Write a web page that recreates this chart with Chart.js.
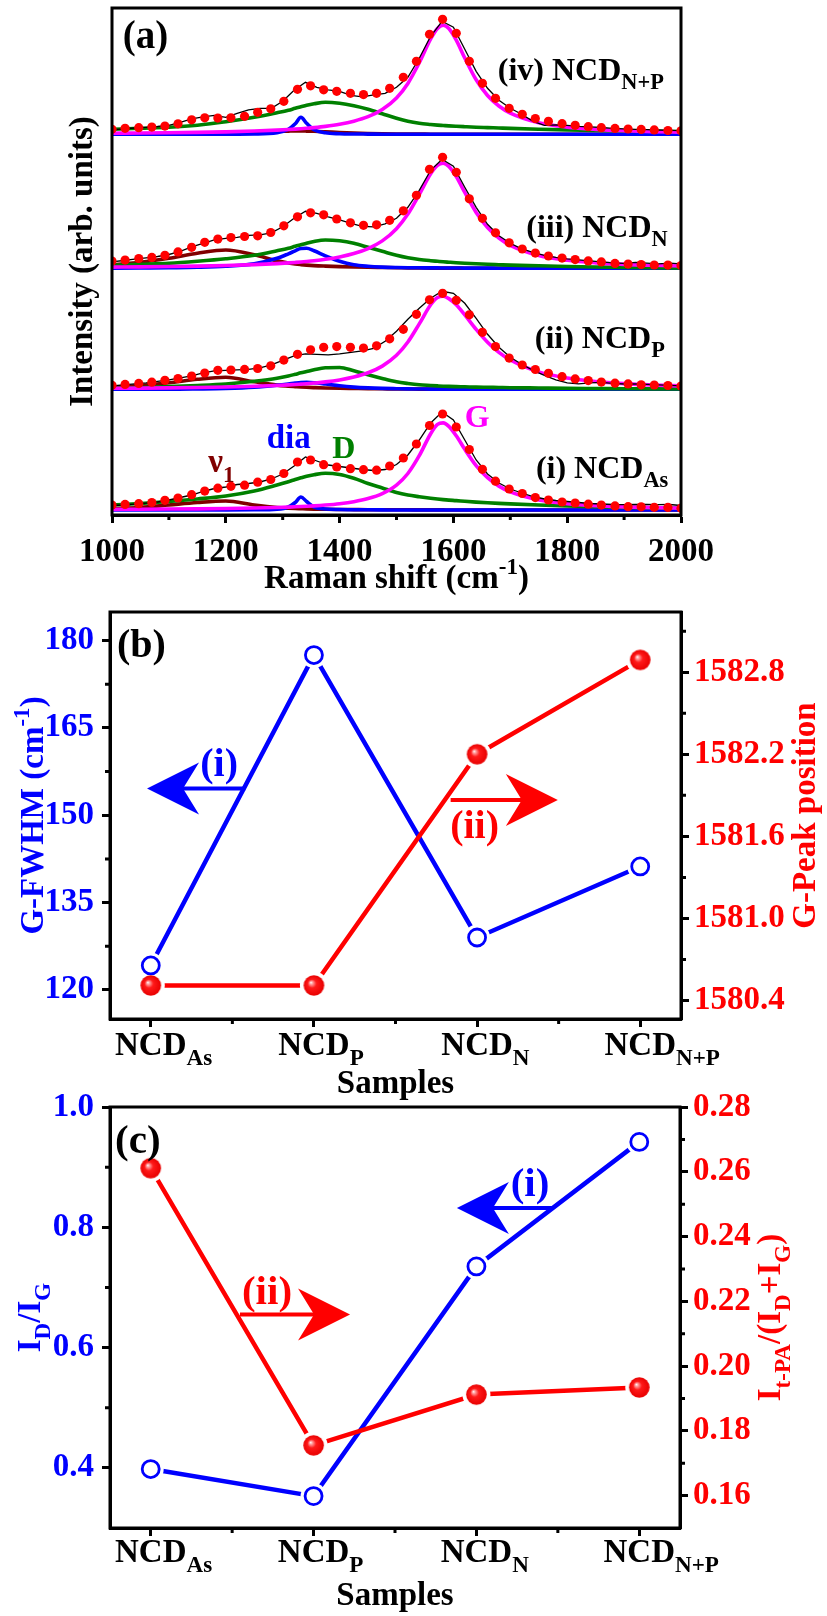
<!DOCTYPE html>
<html>
<head>
<meta charset="utf-8">
<script src="https://cdn.jsdelivr.net/npm/chart.js@4.4.1/dist/chart.umd.min.js"></script>
<style>
html,body{margin:0;padding:0;background:#ffffff;}
body{width:827px;height:1616px;position:relative;overflow:hidden;}
canvas{position:absolute;left:0;display:block;}
</style>
</head>
<body>
<canvas id="ca" width="827" height="598" style="top:0px;width:827px;height:598px"></canvas>
<canvas id="cb" width="827" height="502" style="top:598px;width:827px;height:502px"></canvas>
<canvas id="cc" width="827" height="536" style="top:1080px;width:827px;height:536px"></canvas>
<script>
const FONT='"Liberation Serif","Times New Roman",Times,serif';
const BLUE='#0000FF',RED='#FF0000',MAG='#FF00FF',GREEN='#008000',WINE='#800000',BLK='#000000';
Chart.defaults.font.family=FONT;

// ================= Panel (a): Raman spectra =================
const ramanTicks=[1000,1200,1400,1600,1800,2000];
const ramanMinor=[1100,1300,1500,1700,1900];
const fitX=[1000,1023,1047,1070,1093,1116,1140,1163,1186,1209,1233,1256,1279,1302,1326,1349,1372,1395,1419,1442,1465,1488,1512,1535,1558,1581,1605,1628,1651,1674,1698,1721,1744,1767,1791,1814,1837,1860,1884,1907,1930,1953,1977,2000];
const expX=[1000,1020,1040,1060,1080,1100,1120,1140,1160,1180,1200,1220,1240,1260,1280,1300,1320,1340,1360,1380,1400,1420,1440,1460,1480,1500,1520,1540,1560,1580,1600,1620,1640,1660,1680,1700,1720,1740,1760,1780,1800,1820,1840,1860,1880,1900,1920,1940,1960,1980,2000];
const compX=[1000,1050,1100,1150,1200,1250,1290,1310,1322,1332,1342,1355,1375,1400,1425,1450,1475,1500,1520,1540,1560,1572,1582,1592,1605,1620,1640,1660,1680,1700,1750,1800,1850,1900,1950,2000];
// baselines of the stacked spectra (i) NCD_As, (ii) NCD_P, (iii) NCD_N, (iv) NCD_N+P
const stackOffset=[5,125.7,246.7,380.7];

// (i) NCD_As
const fit_i=[5,5.6,6.3,7.5,9.7,12,15.3,18.9,21.8,23.7,24.8,27.8,30.5,36.5,48,50,45.3,43,41.3,40.3,39.8,44,52,66,84.5,96,83,60.5,40.7,28.8,21,16.5,12.4,10,8,7,5.8,4.9,4.1,3.3,3.2,2.7,2.6,1.8];
const exp_i=[4.5,5,5.8,6.8,8,10,12.5,15,18.5,21.5,23,25.5,26.5,28,31,36,44,53,49,45,43.5,42,40.5,39.5,40.5,45.5,55,70,87,98,90,70,50,36,27,21,17,13.5,11,9.5,8.5,7.5,6.5,6,5.5,5.3,5.5,5.5,5.3,5.5,4.5];
const G_i=[0.65,0.77,0.94,1.17,1.49,1.97,2.54,2.92,3.19,3.44,3.72,4.14,4.96,6.32,8.32,11.4,16.4,24.9,36.5,54.3,76.3,85.6,87.1,83.6,74.2,60.7,44.4,32.3,23.9,18.1,10.1,6.37,4.34,3.14,2.37,1.85];
const D_i=[5,6.5,8.5,11,14,19,25,28.3,30.5,32.2,33.8,35.3,36.7,35.5,31.7,26.5,22,17.5,15,13.3,11.8,11,10.4,9.9,9.4,8.7,7.9,7.2,6.6,6.1,5,4,3.2,2.6,2.1,1.7];
const dia_i=[0,0,0,0,0,0.2,0.8,3,7.5,13,8.5,3,1,0.5,0.3,0.2,0.1,0,0,0,0,0,0,0,0,0,0,0,0,0,0,0,0,0,0,0];
const v1_i=[1.5,2.5,5,7.5,9,5,2.5,1.8,1.5,1.3,1.1,0.9,0.7,0.5,0.4,0.3,0.3,0.2,0.2,0.1,0.1,0.1,0.1,0,0,0,0,0,0,0,0,0,0,0,0,0];

// (ii) NCD_P
const fit_ii=[4,4.9,5.9,7.1,9,10.7,13.3,16.3,19,19.3,19.9,20.8,23.5,29.2,35,39.5,42,42.7,42,41.2,43.5,50.5,60,75,89.5,96,89,74.5,57,42.7,31.2,24.3,19.8,16,12.6,10.4,8.7,7.2,6.1,5.4,4.5,4.3,3.8,3.3];
const exp_ii=[3.5,4.5,5.5,6.5,8,9.5,11.5,13.5,16.5,18.5,19,19.5,20,21.5,24.5,29,33.5,35.5,35,34.5,35.5,37,38.5,41,48,58,70,81,91,98,96,86,71,55,42,32,25,19,14,9.5,6.5,5.5,6.5,7,6,5.3,5.3,5,4.5,4,3.5];
const G_ii=[0.99,1.18,1.44,1.79,2.27,2.99,3.84,4.41,4.81,5.2,5.6,6.24,7.4,9.4,12.25,16.5,23.2,34,47.3,65.4,84.5,91.7,93,90.7,84.5,74.4,59.9,47.1,36.9,29.3,17.4,11.3,7.8,5.7,4.33,3.4];
const D_ii=[1,1.8,2.7,3.8,5.3,8,11,13.3,15,16.5,17.8,19.5,21.5,21.8,18.5,14.5,10.8,7.5,5.8,4.5,3.8,3.4,3.1,2.9,2.7,2.5,2.2,2,1.8,1.6,1.3,1,0.8,0.6,0.4,0.3];
const dia_ii=[0,0,0,0.3,0.8,2,4,5.3,6.2,6.8,7,6.6,5.3,3.5,2.2,1.4,0.9,0.6,0.4,0.3,0.2,0.2,0.2,0.1,0.1,0.1,0,0,0,0,0,0,0,0,0,0];
const v1_ii=[2,3.8,6.5,10,12,7.5,4.2,3.2,2.7,2.3,2,1.7,1.3,1,0.8,0.6,0.5,0.4,0.3,0.2,0.2,0.2,0.2,0.1,0.1,0.1,0.1,0,0,0,0,0,0,0,0,0];

// (iii) NCD_N
const fit_iii=[7.2,8.2,9.8,10.9,13,16.4,21,26,29.2,30.7,31.8,32.5,35.8,42.5,51.5,55.5,53.5,49.3,45.5,43,43.5,48,57.5,73,99,111,96,69.5,50,35.5,25.5,19.3,15.2,12.3,10.2,8.7,7.4,6.4,4.9,4.2,3.8,3.3,3.2,2.7];
const exp_iii=[6.5,7.8,9.2,10.5,11.8,13.8,17,21.5,25,28.5,30,31,33,33.5,35.5,41.5,50,57,55,51.5,48.5,45,42,41.5,44.5,50,61,78,98,109,102,81,61,44,32.5,25,19.5,16,13,11,9.5,8.5,7.5,6.5,5.5,5,6,5.2,4.5,5.2,4.5];
const G_iii=[1.22,1.46,1.77,2.2,2.79,3.67,4.71,5.38,5.87,6.31,6.82,7.57,8.98,11.35,14.7,19.7,27.4,39.6,54.2,73.8,94.5,102.9,105,101.9,91.7,75.9,55.9,40.8,30.3,23,12.8,8.03,5.47,3.95,2.98,2.32];
const D_iii=[3,4,5,7,9.5,13,17.5,20,22,23.5,25,26.8,28.3,27.5,25,21,17,13,10.5,8.8,7.6,7,6.5,6.1,5.6,5.1,4.5,4,3.6,3.2,2.5,1.8,1.3,0.9,0.6,0.4];
const dia_iii=[0,0.3,0.6,1,2,4.5,10,14.5,17.5,19.8,20,17.5,12.5,7,3.5,2,1.2,0.8,0.6,0.5,0.4,0.4,0.3,0.3,0.3,0.2,0.2,0.2,0.1,0.1,0,0,0,0,0,0];
const v1_iii=[3.5,6,10,15,18.3,13.5,7.5,5.3,4.3,3.7,3.2,2.7,2.2,1.7,1.3,1,0.8,0.6,0.4,0.3,0.2,0.2,0.2,0.2,0.2,0.1,0.1,0.1,0.1,0,0,0,0,0,0,0];

// (iv) NCD_N+P
const fit_iv=[5,6,6.6,7.2,8.2,10.5,14.5,16.5,16.2,16.5,18,22,25.5,33,45,48.5,44.5,43,41,39.7,41,46,57,73,100,115,101,73,51,36,26,20,15.8,13,10.6,9,7.6,6.6,5.9,5.3,4.9,4.4,3.8,3.5];
const exp_iv=[4.5,5.5,6.3,7,7.8,9,12,15.5,17.5,19,17,21,24.5,26,26,33,44,52,47,44.5,43,39,37.5,39.5,41,47,57,76,98,113,107,85,63,46,34,26,20,13,9,9.5,9,8,7.5,6.8,6,5.5,5,4.6,4.3,4,3.6];
const G_iv=[1.07,1.28,1.56,1.93,2.46,3.23,4.14,4.74,5.17,5.56,6.02,6.69,7.94,10.05,13.1,17.6,24.8,36.3,50.9,71.5,95.3,105.8,109,105.8,94.2,76.3,54.5,38.8,28.3,21.2,11.6,7.2,4.9,3.5,2.64,2.06];
const D_iv=[5,6,7,9,12.5,17,21.5,24,26,27.5,29,30.5,32,31,28.5,25,20.5,16,13,11,9.8,9.2,8.8,8.4,8,7.6,7.1,6.7,6.3,5.9,5.1,4.4,3.8,3.3,3,2.7];
const dia_iv=[0,0,0,0,0.1,0.3,1.5,5,10.5,17,11,4.5,1.5,0.6,0.3,0.2,0.1,0,0,0,0,0,0,0,0,0,0,0,0,0,0,0,0,0,0,0];
const v1_iv=[0.3,0.5,0.8,1.2,1.8,2.5,3,3.2,3.3,3.3,3.2,3,2.5,1.8,1.2,0.8,0.5,0.3,0.2,0.2,0.1,0.1,0.1,0.1,0,0,0,0,0,0,0,0,0,0,0,0];

// ================= Panels (b) and (c) =================
const catIdx=[0,1,2,3];
const catMain=['NCD','NCD','NCD','NCD'];
const catSub=['As','P','N','N+P'];
const catMinor=[0.5,1.5,2.5];
const gFwhm=[124.2,177.5,129.0,141.2];
const gPos=[1580.51,1580.51,1582.20,1582.89];
const fwhmTicks=[120,135,150,165,180];
const fwhmMinor=[127.5,142.5,157.5,172.5];
const gPosTicks=[1580.4,1581.0,1581.6,1582.2,1582.8];
const gPosMinor=[1580.7,1581.3,1581.9,1582.5,1583.1];
const idIg=[0.398,0.353,0.735,0.942];
const itpa=[0.2611,0.1755,0.1912,0.1934];
const idigTicks=[0.4,0.6,0.8,1.0];
const idigMinor=[0.5,0.7,0.9];
const itpaTicks=[0.16,0.18,0.20,0.22,0.24,0.26,0.28];
const itpaMinor=[0.17,0.19,0.21,0.23,0.25,0.27];

// ---------- helpers ----------
function pts(xs,ys,off){return xs.map((x,k)=>({x:x,y:off+ys[k]}));}
function segW(ctx,segs,size,wt){let w=0;for(const s of segs){ctx.font=wt+' '+(s.s?size*0.7:size)+'px '+FONT;w+=ctx.measureText(s.t).width;}return w;}
function drawRich(ctx,segs,x,y,o){
  o=o||{};const size=o.size||33,wt=o.weight||'bold';
  ctx.save();ctx.translate(x,y);if(o.rot)ctx.rotate(o.rot);
  ctx.fillStyle=o.color||BLK;ctx.textAlign='left';ctx.textBaseline='alphabetic';
  const w=segW(ctx,segs,size,wt);let cx=0;
  if(o.align==='center')cx=-w/2;else if(o.align==='right')cx=-w;else if(o.align==='first')cx=-segW(ctx,[segs[0]],size,wt)/2;
  for(const s of segs){const fs=s.s?size*0.7:size;ctx.font=wt+' '+fs+'px '+FONT;
    const dy=s.s==='sub'?size*0.29:(s.s==='sup'?-size*0.42:0);
    ctx.fillText(s.t,cx,dy);cx+=ctx.measureText(s.t).width;}
  ctx.restore();
}
function frame(chart){const a=chart.chartArea,c=chart.ctx;c.save();c.strokeStyle=BLK;c.lineWidth=3;c.strokeRect(a.left,a.top,a.right-a.left,a.bottom-a.top);c.restore();}
function minorTicks(chart,id,vals,side,len){
  const s=chart.scales[id],a=chart.chartArea,c=chart.ctx;c.save();c.strokeStyle=BLK;c.lineWidth=3;c.beginPath();
  vals.forEach(v=>{const p=s.getPixelForValue(v);
    if(side==='bottom'){c.moveTo(p,a.bottom);c.lineTo(p,a.bottom+len);}
    else if(side==='left'){c.moveTo(a.left-len,p);c.lineTo(a.left,p);}
    else {c.moveTo(a.right,p);c.lineTo(a.right+len,p);}
  });c.stroke();c.restore();
}
function arrow(ctx,x0,x1,y,color){
  const d=Math.sign(x1-x0);ctx.save();ctx.strokeStyle=color;ctx.fillStyle=color;ctx.lineWidth=4;
  ctx.beginPath();ctx.moveTo(x0,y);ctx.lineTo(x1-d*30,y);ctx.stroke();
  ctx.beginPath();ctx.moveTo(x1,y);ctx.lineTo(x1-d*52,y-26);ctx.lineTo(x1-d*36,y);ctx.lineTo(x1-d*52,y+26);ctx.closePath();ctx.fill();
  ctx.restore();
}
function makeSphere(r){
  const c=document.createElement('canvas');const s=Math.ceil(2*r+2);c.width=s;c.height=s;
  const g=c.getContext('2d');const cx=s/2,cy=s/2;
  const grd=g.createRadialGradient(cx-0.3*r,cy-0.3*r,0,cx,cy,r);
  grd.addColorStop(0,'#ffffff');grd.addColorStop(0.16,'#ff9a9a');grd.addColorStop(0.42,'#ff1a1a');grd.addColorStop(1,'#e80000');
  g.fillStyle=grd;g.beginPath();g.arc(cx,cy,r,0,2*Math.PI);g.fill();return c;
}
const sphere=makeSphere(10.3);
const tickFont={family:FONT,size:33,weight:'bold'};
function gridOpts(){return {display:true,drawOnChartArea:false,drawTicks:true,tickLength:8,tickWidth:3,tickColor:BLK};}
const borderOpts={display:true,color:BLK,width:3};

// ================= Chart (a) =================
const spectra=[
  {off:stackOffset[0],fit:fit_i,exp:exp_i,G:G_i,D:D_i,dia:dia_i,v1:v1_i},
  {off:stackOffset[1],fit:fit_ii,exp:exp_ii,G:G_ii,D:D_ii,dia:dia_ii,v1:v1_ii},
  {off:stackOffset[2],fit:fit_iii,exp:exp_iii,G:G_iii,D:D_iii,dia:dia_iii,v1:v1_iii},
  {off:stackOffset[3],fit:fit_iv,exp:exp_iv,G:G_iv,D:D_iv,dia:dia_iv,v1:v1_iv}
];
const dsA=[];
spectra.forEach(s=>{
  const comp=(arr,col,ord)=>({data:pts(compX,arr,s.off),borderColor:col,borderWidth:3.6,pointRadius:0,cubicInterpolationMode:'monotone',order:ord});
  dsA.push(comp(s.v1,WINE,6));
  dsA.push(comp(s.dia,BLUE,5));
  dsA.push(comp(s.D,GREEN,4));
  dsA.push(comp(s.G,MAG,3));
  dsA.push({data:pts(expX,s.exp,s.off),borderColor:BLK,borderWidth:1.3,pointRadius:0,tension:0,order:2});
  dsA.push({data:pts(fitX,s.fit,s.off),showLine:false,pointRadius:4.6,pointBackgroundColor:RED,pointBorderWidth:0,order:1});
});
// text annotations of panel (a) in data coordinates (wavenumber, intensity)
const aTexts=[
  {segs:[{t:'(a)'}],x:1019,y:467,size:39,color:BLK},
  {segs:[{t:'(iv) NCD'},{t:'N+P',s:'sub'}],x:1678,y:435,size:32,color:BLK},
  {segs:[{t:'(iii) NCD'},{t:'N',s:'sub'}],x:1728,y:278,size:32,color:BLK},
  {segs:[{t:'(ii) NCD'},{t:'P',s:'sub'}],x:1743,y:167,size:32,color:BLK},
  {segs:[{t:'(i) NCD'},{t:'As',s:'sub'}],x:1745,y:37,size:32,color:BLK},
  {segs:[{t:'G'}],x:1620,y:88,size:32,color:MAG},
  {segs:[{t:'D'}],x:1387,y:57,size:32,color:GREEN},
  {segs:[{t:'dia'}],x:1272,y:67,size:33,color:BLUE},
  {segs:[{t:'\u03BD'},{t:'1',s:'sub'}],x:1169,y:43,size:33,color:WINE}
];
const decoA={id:'decoA',afterDraw(chart){
  const c=chart.ctx,a=chart.chartArea,xs=chart.scales.x,ys=chart.scales.y;
  frame(chart);
  minorTicks(chart,'x',ramanMinor,'bottom',5);
  aTexts.forEach(t=>drawRich(c,t.segs,xs.getPixelForValue(t.x),ys.getPixelForValue(t.y),{size:t.size,color:t.color}));
  drawRich(c,[{t:'Raman shift (cm'},{t:'-1',s:'sup'},{t:')'}],(a.left+a.right)/2,a.bottom+73,{align:'center',size:33});
  drawRich(c,[{t:'Intensity (arb. units)'}],a.left-20,(a.top+a.bottom)/2,{align:'center',size:33,rot:-Math.PI/2});
}};
new Chart(document.getElementById('ca'),{
  type:'line',data:{datasets:dsA},
  options:{responsive:false,animation:false,devicePixelRatio:1,
    layout:{padding:{top:8,left:112,right:146,bottom:0}},
    plugins:{legend:{display:false},tooltip:{enabled:false}},
    scales:{
      x:{type:'linear',min:1000,max:2000,
        afterBuildTicks:s=>{s.ticks=ramanTicks.map(v=>({value:v}));},
        afterFit:s=>{s.height=83;s.paddingLeft=0;s.paddingRight=0;},
        ticks:{color:BLK,font:tickFont,padding:10,autoSkip:false,maxRotation:0,callback:v=>String(v)},
        grid:gridOpts(),border:borderOpts},
      y:{type:'linear',min:0,max:507,display:false}
    }},
  plugins:[decoA]
});

// ================= Chart (b) =================
const decoB={id:'decoB',afterDraw(chart){
  const c=chart.ctx,a=chart.chartArea,xs=chart.scales.x,ys=chart.scales.y;
  frame(chart);
  minorTicks(chart,'x',catMinor,'bottom',5);
  minorTicks(chart,'y',fwhmMinor,'left',5);
  minorTicks(chart,'y2',gPosMinor,'right',5);
  catIdx.forEach(k=>drawRich(c,[{t:catMain[k]},{t:catSub[k],s:'sub'}],xs.getPixelForValue(k),a.bottom+36,{align:'first',size:33}));
  drawRich(c,[{t:'Samples'}],(a.left+a.right)/2,a.bottom+74,{align:'center',size:33});
  drawRich(c,[{t:'G-FWHM (cm'},{t:'-1',s:'sup'},{t:')'}],a.left-67,(a.top+a.bottom)/2,{align:'center',size:33,rot:-Math.PI/2,color:BLUE});
  drawRich(c,[{t:'G-Peak position'}],a.right+134,(a.top+a.bottom)/2,{align:'center',size:33,rot:-Math.PI/2,color:RED});
  drawRich(c,[{t:'(b)'}],xs.getPixelForValue(-0.207),ys.getPixelForValue(177.2),{size:40});
  arrow(c,xs.getPixelForValue(0.579),xs.getPixelForValue(-0.023),ys.getPixelForValue(154.6),BLUE);
  drawRich(c,[{t:'(i)'}],xs.getPixelForValue(0.419),ys.getPixelForValue(156.8),{align:'center',size:40,color:BLUE});
  arrow(c,xs.getPixelForValue(1.838),xs.getPixelForValue(2.495),ys.getPixelForValue(152.6),RED);
  drawRich(c,[{t:'(ii)'}],xs.getPixelForValue(1.985),ys.getPixelForValue(146.0),{align:'center',size:40,color:RED});
}};
new Chart(document.getElementById('cb'),{
  type:'line',
  data:{datasets:[
    {data:pts(catIdx,gFwhm,0),yAxisID:'y',borderColor:BLUE,borderWidth:4.5,pointRadius:13,pointBackgroundColor:'#fff',pointBorderWidth:0,order:4},
    {data:pts(catIdx,gPos,0),yAxisID:'y2',borderColor:RED,borderWidth:4.5,pointRadius:14,pointBackgroundColor:'#fff',pointBorderWidth:0,order:3},
    {data:pts(catIdx,gFwhm,0),yAxisID:'y',showLine:false,pointRadius:8.5,pointBorderColor:BLUE,pointBackgroundColor:'#fff',pointBorderWidth:2.8,order:2},
    {data:pts(catIdx,gPos,0),yAxisID:'y2',showLine:false,pointStyle:sphere,pointRadius:10,order:1}
  ]},
  options:{responsive:false,animation:false,devicePixelRatio:1,
    layout:{padding:{top:3,left:0,right:0,bottom:0}},
    plugins:{legend:{display:false},tooltip:{enabled:false}},
    scales:{
      x:{type:'linear',min:-0.25,max:3.25,
        afterBuildTicks:s=>{s.ticks=catIdx.map(v=>({value:v}));},
        afterFit:s=>{s.height=81;s.paddingLeft=0;s.paddingRight=0;},
        ticks:{display:false},grid:gridOpts(),border:borderOpts},
      y:{type:'linear',position:'left',min:115,max:184.9,
        afterBuildTicks:s=>{s.ticks=fwhmTicks.map(v=>({value:v}));},
        afterFit:s=>{s.width=110;s.paddingTop=0;s.paddingBottom=0;},
        ticks:{color:BLUE,font:tickFont,padding:8,callback:v=>String(v)},
        grid:gridOpts(),border:borderOpts},
      y2:{type:'linear',position:'right',min:1580.265,max:1583.24,
        afterBuildTicks:s=>{s.ticks=gPosTicks.map(v=>({value:v}));},
        afterFit:s=>{s.width=146;s.paddingTop=0;s.paddingBottom=0;},
        ticks:{color:RED,font:tickFont,padding:5,callback:v=>Number(v).toFixed(1)},
        grid:gridOpts(),border:borderOpts}
    }},
  plugins:[decoB]
});

// ================= Chart (c) =================
const decoC={id:'decoC',afterDraw(chart){
  const c=chart.ctx,a=chart.chartArea,xs=chart.scales.x,ys=chart.scales.y;
  frame(chart);
  minorTicks(chart,'x',catMinor,'bottom',5);
  minorTicks(chart,'y',idigMinor,'left',5);
  minorTicks(chart,'y2',itpaMinor,'right',5);
  catIdx.forEach(k=>drawRich(c,[{t:catMain[k]},{t:catSub[k],s:'sub'}],xs.getPixelForValue(k),a.bottom+34,{align:'first',size:33}));
  drawRich(c,[{t:'Samples'}],(a.left+a.right)/2,a.bottom+77,{align:'center',size:33});
  drawRich(c,[{t:'I'},{t:'D',s:'sub'},{t:'/I'},{t:'G',s:'sub'}],a.left-70,(a.top+a.bottom)/2,{align:'center',size:33,rot:-Math.PI/2,color:BLUE});
  drawRich(c,[{t:'I'},{t:'t-PA',s:'sub'},{t:'/(I'},{t:'D',s:'sub'},{t:'+I'},{t:'G',s:'sub'},{t:')'}],a.right+100,(a.top+a.bottom)/2,{align:'center',size:33,rot:-Math.PI/2,color:RED});
  drawRich(c,[{t:'(c)'}],xs.getPixelForValue(-0.219),ys.getPixelForValue(0.923),{size:41});
  arrow(c,xs.getPixelForValue(0.548),xs.getPixelForValue(1.224),ys.getPixelForValue(0.655),RED);
  drawRich(c,[{t:'(ii)'}],xs.getPixelForValue(0.714),ys.getPixelForValue(0.673),{align:'center',size:41,color:RED});
  arrow(c,xs.getPixelForValue(2.47),xs.getPixelForValue(1.88),ys.getPixelForValue(0.832),BLUE);
  drawRich(c,[{t:'(i)'}],xs.getPixelForValue(2.329),ys.getPixelForValue(0.852),{align:'center',size:41,color:BLUE});
}};
new Chart(document.getElementById('cc'),{
  type:'line',
  data:{datasets:[
    {data:pts(catIdx,idIg,0),yAxisID:'y',borderColor:BLUE,borderWidth:4.5,pointRadius:13,pointBackgroundColor:'#fff',pointBorderWidth:0,order:4},
    {data:pts(catIdx,itpa,0),yAxisID:'y2',borderColor:RED,borderWidth:4.5,pointRadius:14,pointBackgroundColor:'#fff',pointBorderWidth:0,order:3},
    {data:pts(catIdx,idIg,0),yAxisID:'y',showLine:false,pointRadius:8.5,pointBorderColor:BLUE,pointBackgroundColor:'#fff',pointBorderWidth:2.8,order:2},
    {data:pts(catIdx,itpa,0),yAxisID:'y2',showLine:false,pointStyle:sphere,pointRadius:10,order:1}
  ]},
  options:{responsive:false,animation:false,devicePixelRatio:1,
    layout:{padding:{top:27,left:0,right:0,bottom:0}},
    plugins:{legend:{display:false},tooltip:{enabled:false}},
    scales:{
      x:{type:'linear',min:-0.25,max:3.25,
        afterBuildTicks:s=>{s.ticks=catIdx.map(v=>({value:v}));},
        afterFit:s=>{s.height=88;s.paddingLeft=0;s.paddingRight=0;},
        ticks:{display:false},grid:gridOpts(),border:borderOpts},
      y:{type:'linear',position:'left',min:0.3,max:1.0,
        afterBuildTicks:s=>{s.ticks=idigTicks.map(v=>({value:v}));},
        afterFit:s=>{s.width=110;s.paddingTop=0;s.paddingBottom=0;},
        ticks:{color:BLUE,font:tickFont,padding:8,callback:v=>Number(v).toFixed(1)},
        grid:gridOpts(),border:borderOpts},
      y2:{type:'linear',position:'right',min:0.15,max:0.28,
        afterBuildTicks:s=>{s.ticks=itpaTicks.map(v=>({value:v}));},
        afterFit:s=>{s.width=147;s.paddingTop=0;s.paddingBottom=0;},
        ticks:{color:RED,font:tickFont,padding:5,callback:v=>Number(v).toFixed(2)},
        grid:gridOpts(),border:borderOpts}
    }},
  plugins:[decoC]
});
</script>
</body>
</html>
